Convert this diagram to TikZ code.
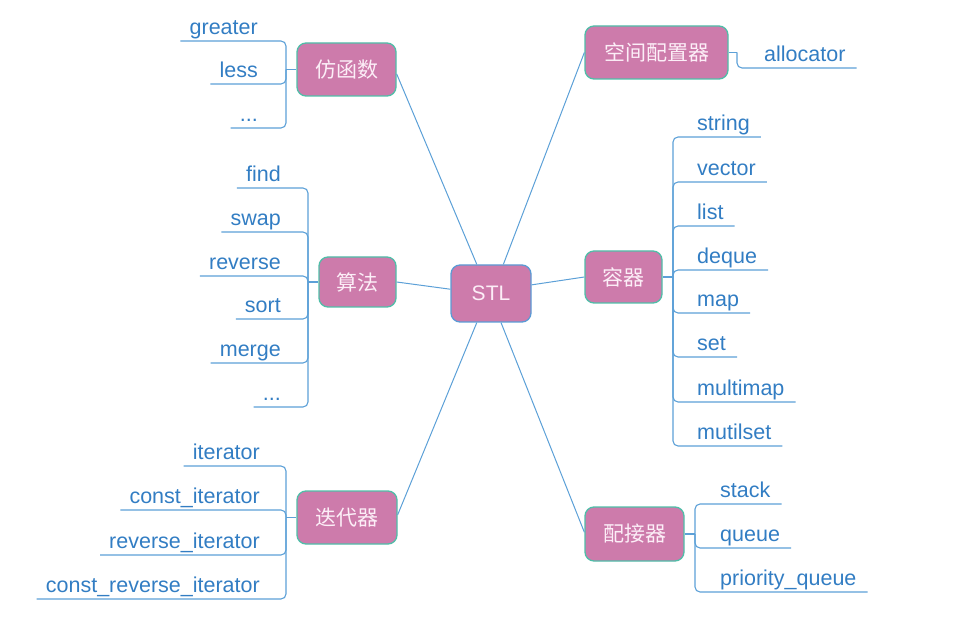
\documentclass[tikz,border=0pt]{standalone}
\usepackage{fontspec}
\setmainfont{Liberation Sans}
\newfontfamily\cjk{Noto Sans CJK SC}
\definecolor{boxfill}{RGB}{205,123,171}
\definecolor{stlborder}{RGB}{91,155,213}
\definecolor{topicborder}{RGB}{80,190,168}
\definecolor{boxtext}{RGB}{252,238,247}
\definecolor{leaftext}{RGB}{50,125,195}
\definecolor{linecol}{RGB}{92,160,215}
\begin{document}
\begin{tikzpicture}[x=1pt,y=-1pt,
  hub/.style={draw=stlborder, fill=boxfill, rounded corners=9pt, line width=1.3pt, inner sep=0pt,
    font=\fontsize{21}{24}\selectfont, text=boxtext},
  topic/.style={draw=topicborder, fill=boxfill, rounded corners=9pt, line width=1.3pt, inner sep=0pt,
    font=\cjk\fontsize{21}{24}\selectfont, text=boxtext},
  leafl/.style={anchor=south east, inner xsep=9pt, inner ysep=0pt, text height=15pt, text depth=6pt,
    font=\fontsize{21.5}{24}\selectfont, text=leaftext},
  leafr/.style={anchor=south west, inner xsep=11pt, inner ysep=0pt, text height=15pt, text depth=6pt,
    font=\fontsize{21.5}{24}\selectfont, text=leaftext},
  conn/.style={draw=linecol, line width=1.1pt, rounded corners=5pt},
  spoke/.style={draw=linecol, line width=1pt}]
\useasboundingbox (0,0) rectangle (978,628);

% central and topic boxes
\node[hub, minimum width=80pt, minimum height=57pt] (stl) at (491,293.5) {STL};
\node[topic, minimum width=99pt, minimum height=53pt] (func) at (346.5,69.5) {仿函数};
\node[topic, minimum width=143pt, minimum height=53pt] (alloc) at (656.5,52.5) {空间配置器};
\node[topic, minimum width=77pt, minimum height=50pt] (algo) at (357.5,282) {算法};
\node[topic, minimum width=77pt, minimum height=52pt] (cont) at (623.5,277) {容器};
\node[topic, minimum width=100pt, minimum height=53pt] (iter) at (347,517.5) {迭代器};
\node[topic, minimum width=99pt, minimum height=54pt] (adap) at (634.5,534) {配接器};

% spokes
\draw[spoke] (stl.116) -- (func.355);
\draw[spoke] (stl.67) -- (alloc.west);
\draw[spoke] (stl.174) -- (algo.east);
\draw[spoke] (stl.12) -- (cont.west);
\draw[spoke] (stl.244) -- (iter.3);
\draw[spoke] (stl.289) -- (adap.178);

% bracket junctions
\coordinate (bf) at (286,69.5);
\coordinate (bal) at (308,282);
\coordinate (bi) at (286,517.5);
\coordinate (ba) at (737,52.5);
\coordinate (bc) at (673,277);
\coordinate (bd) at (695,534);

\draw[conn] (bf) -- (func.west);
\draw[conn] (bal) -- (algo.west);
\draw[conn] (bi) -- (iter.west);
\draw[conn] (ba) -- (alloc.east);
\draw[conn] (bc) -- (cont.east);
\draw[conn] (bd) -- (adap.east);

% 仿函数
\node[leafl] (f1) at (267,41) {greater};
\node[leafl] (f2) at (267,84) {less};
\node[leafl] (f3) at (267,128) {...};
\foreach \n in {f1,f2,f3} \draw[conn] (\n.south west) -| (bf);

% 算法
\node[leafl] (a1) at (290,188) {find};
\node[leafl] (a2) at (290,232) {swap};
\node[leafl] (a3) at (290,276) {reverse};
\node[leafl] (a4) at (290,319) {sort};
\node[leafl] (a5) at (290,363) {merge};
\node[leafl] (a6) at (290,407) {...};
\foreach \n in {a1,a2,a3,a4,a5,a6} \draw[conn] (\n.south west) -| (bal);

% 迭代器
\node[leafl] (i1) at (269,466) {iterator};
\node[leafl] (i2) at (269,510) {const\_iterator};
\node[leafl] (i3) at (269,555) {reverse\_iterator};
\node[leafl] (i4) at (269,599) {const\_reverse\_iterator};
\foreach \n in {i1,i2,i3,i4} \draw[conn] (\n.south west) -| (bi);

% 空间配置器
\node[leafr] (s1) at (753,68) {allocator};
\draw[conn] (s1.south east) -| (ba);

% 容器
\node[leafr] (c1) at (686,137) {string};
\node[leafr] (c2) at (686,182) {vector};
\node[leafr] (c3) at (686,226) {list};
\node[leafr] (c4) at (686,270) {deque};
\node[leafr] (c5) at (686,313) {map};
\node[leafr] (c6) at (686,357) {set};
\node[leafr] (c7) at (686,402) {multimap};
\node[leafr] (c8) at (686,446) {mutilset};
\foreach \n in {c1,c2,c3,c4,c5,c6,c7,c8} \draw[conn] (\n.south east) -| (bc);

% 配接器
\node[leafr] (d1) at (709,504) {stack};
\node[leafr] (d2) at (709,548) {queue};
\node[leafr] (d3) at (709,592) {priority\_queue};
\foreach \n in {d1,d2,d3} \draw[conn] (\n.south east) -| (bd);
\end{tikzpicture}
\end{document}
